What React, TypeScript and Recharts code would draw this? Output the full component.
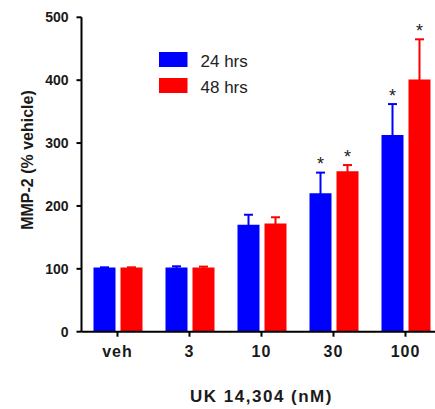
import React from 'react';
import { BarChart, Bar, XAxis, YAxis, ErrorBar, LabelList, Legend, Label } from 'recharts';

const categories = ['veh', '3', '10', '30', '100'];
const mean24 = [102, 102, 170, 220, 313];
const err24 = [0, 2, 16, 33, 49];
const mean48 = [102, 102, 172, 255, 401];
const err48 = [0, 1.5, 10, 10, 64];
const star24 = [false, false, false, true, true];
const star48 = [false, false, false, true, true];
const yTicks = [0, 100, 200, 300, 400, 500];

// lower whisker is hidden inside the bar (same colour), only the upper SEM shows
const HIDDEN_LOW = 3;

const data = categories.map((c, i) => ({
  name: c,
  h24: mean24[i],
  h48: mean48[i],
  e24: err24[i] > 0 ? [HIDDEN_LOW, err24[i]] : [0, 0],
  e48: err48[i] > 0 ? [HIDDEN_LOW, err48[i]] : [0, 0],
}));

const FONT = '"Liberation Sans", Arial, Helvetica, sans-serif';

const makeStar = (errs: number[], stars: boolean[]) => (props: any) => {
  const { x, y, width, height, value, index } = props;
  if (!stars[index] || !value) return null;
  const k = Number(height) / Number(value);
  const capY = Number(y) - errs[index] * k;
  return (
    <text
      x={Number(x) + Number(width) / 2}
      y={capY - 2.5}
      textAnchor="middle"
      fontSize={18}
      fontFamily={FONT}
      fill="#222"
    >
      *
    </text>
  );
};

const renderLegend = (props: any) => {
  const { payload } = props;
  return (
    <svg width={120} height={50} style={{ display: 'block' }}>
      {(payload || []).map((p: any, i: number) => (
        <g key={i}>
          <rect x={0} y={i * 26} width={28.5} height={15} fill={p.color} />
          <text x={41.5} y={i * 26 + 14.5} fontSize={17} fontFamily={FONT} fill="#222">
            {p.value}
          </text>
        </g>
      ))}
    </svg>
  );
};

const YLabel = () => (
  <text
    x={27.5}
    y={160}
    transform="rotate(-90 27.5 160)"
    textAnchor="middle"
    dominantBaseline="central"
    fontSize={16}
    fontWeight="bold"
    fontFamily={FONT}
    fill="#1a1a1a"
  >
    MMP-2 (% vehicle)
  </text>
);

const XLabel = (props: any) => {
  const vb = props.viewBox || { x: 81.5, width: 360 };
  return (
    <text
      x={vb.x + vb.width / 2}
      y={402}
      textAnchor="middle"
      fontSize={17}
      fontWeight="bold"
      letterSpacing={1.5}
      fontFamily={FONT}
      fill="#1a1a1a"
    >
      UK 14,304 (nM)
    </text>
  );
};

export default function App() {
  return (
    <div style={{ position: 'fixed', left: 0, top: 0, width: 435, height: 409, overflow: 'hidden', background: '#fff' }}>
      <BarChart
        width={441.5}
        height={409}
        data={data}
        margin={{ top: 17.3, right: 0, bottom: 0, left: 0 }}
        barSize={22}
        barGap={5}
      >
        <XAxis
          dataKey="name"
          height={77.3}
          axisLine={{ stroke: '#000', strokeWidth: 2 }}
          tickLine={{ stroke: '#000', strokeWidth: 2 }}
          tickSize={5}
          tickMargin={9}
          tick={{ fontSize: 16, fontWeight: 'bold', fill: '#1a1a1a', fontFamily: FONT, letterSpacing: 1 }}
          interval={0}
        >
          <Label content={<XLabel />} />
        </XAxis>
        <YAxis
          width={81.5}
          domain={[0, 500]}
          ticks={yTicks}
          axisLine={{ stroke: '#000', strokeWidth: 2 }}
          tickLine={{ stroke: '#000', strokeWidth: 2 }}
          tickSize={5}
          tickMargin={8}
          tick={{ fontSize: 14, fontWeight: 'bold', fill: '#1a1a1a', fontFamily: FONT }}
          interval={0}
        >
          <Label content={<YLabel />} />
        </YAxis>
        <Legend
          layout="vertical"
          align="center"
          verticalAlign="middle"
          content={renderLegend}
          wrapperStyle={{ position: 'absolute', left: 158.5, top: 51.7, width: 120, height: 50 }}
        />
        <Bar dataKey="h24" name="24 hrs" fill="#0000ff" isAnimationActive={false}>
          <ErrorBar dataKey="e24" direction="y" width={4.5} stroke="#0000ff" strokeWidth={2} isAnimationActive={false} />
          <LabelList dataKey="h24" content={makeStar(err24, star24)} />
        </Bar>
        <Bar dataKey="h48" name="48 hrs" fill="#ff0000" isAnimationActive={false}>
          <ErrorBar dataKey="e48" direction="y" width={4.5} stroke="#ff0000" strokeWidth={2} isAnimationActive={false} />
          <LabelList dataKey="h48" content={makeStar(err48, star48)} />
        </Bar>
      </BarChart>
    </div>
  );
}
